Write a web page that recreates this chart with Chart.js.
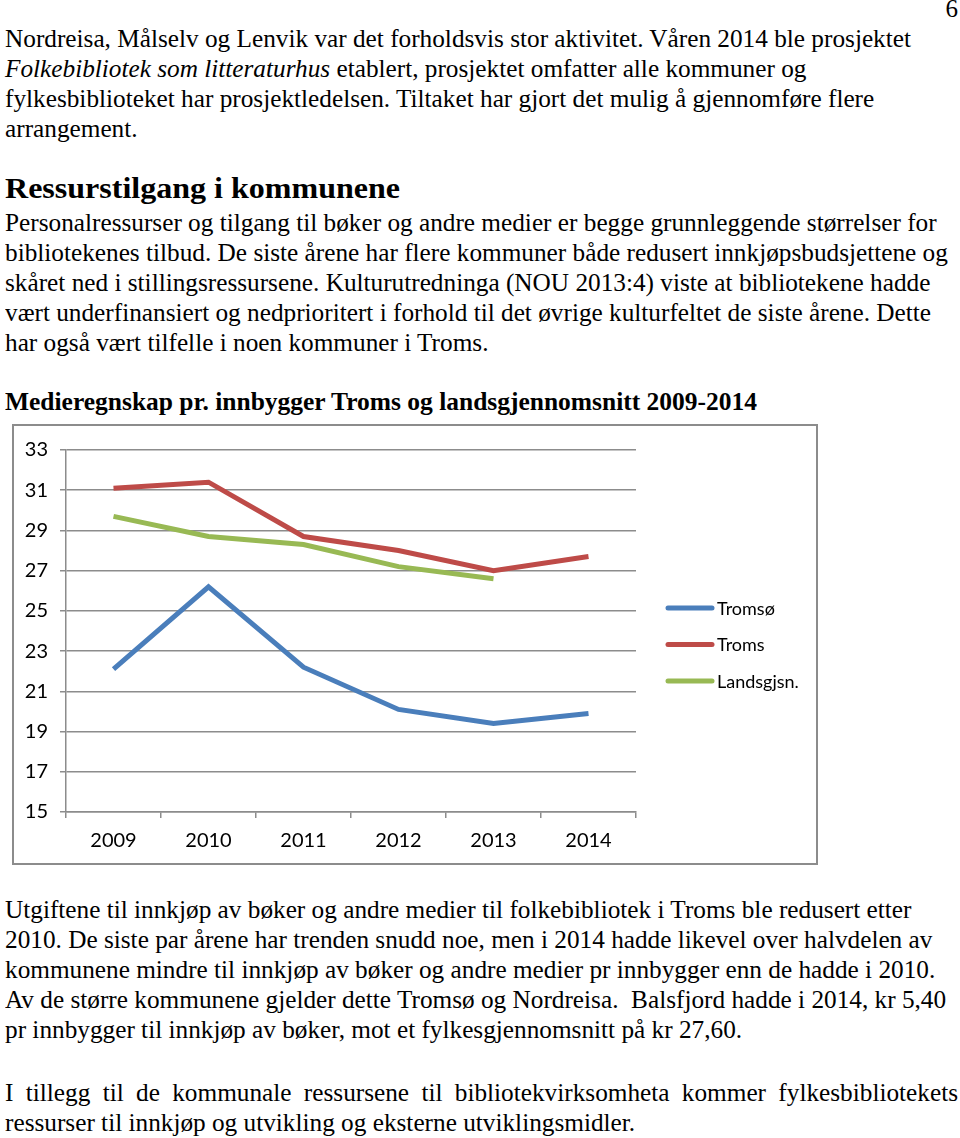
<!DOCTYPE html>
<html>
<head>
<meta charset="utf-8">
<script src="https://cdn.jsdelivr.net/npm/chart.js@4"></script>
<style>
  body { margin: 0; background: #fff; }
  #page { position: relative; width: 960px; height: 1138px; overflow: hidden; }
  .txt { position: absolute; left: 5px; font-family: "Times New Roman", "Liberation Serif", Times, serif; font-size: 25px;
         line-height: 30px; white-space: nowrap; transform-origin: left top; color: #000; }
  .head { position: absolute; left: 5px; font-family: "Times New Roman", "Liberation Serif", Times, serif; font-weight: bold;
          white-space: nowrap; transform-origin: left top; color: #000; }
  #pnum { position: absolute; right: 2px; top: -5px; font-family: "Times New Roman", "Liberation Serif", serif; font-size: 25px; }
  #box { position: absolute; left: 12px; top: 424px; width: 806px; height: 441px;
         border: 2px solid #8c8c8c; box-sizing: border-box; }
  #box canvas { position: absolute; left: 0; top: 0; }
</style>
</head>
<body>
<div id="page">
  <div id="pnum">6</div>

  <div class="txt" id="p1" style="top:24px">Nordreisa, Målselv og Lenvik var det forholdsvis stor aktivitet. Våren 2014 ble prosjektet<br><i>Folkebibliotek som litteraturhus</i> etablert, prosjektet omfatter alle kommuner og<br>fylkesbiblioteket har prosjektledelsen. Tiltaket har gjort det mulig å gjennomføre flere<br>arrangement.</div>

  <div class="head" style="top:172px;font-size:29px" data-w="395">Ressurstilgang i kommunene</div>

  <div class="txt" style="top:208px">Personalressurser og tilgang til bøker og andre medier er begge grunnleggende størrelser for<br>bibliotekenes tilbud. De siste årene har flere kommuner både redusert innkjøpsbudsjettene og<br>skåret ned i stillingsressursene. Kulturutredninga (NOU 2013:4) viste at bibliotekene hadde<br>vært underfinansiert og nedprioritert i forhold til det øvrige kulturfeltet de siste årene. Dette<br>har også vært tilfelle i noen kommuner i Troms.</div>

  <div class="head" style="top:388px;font-size:25px" data-w="752">Medieregnskap pr. innbygger Troms og landsgjennomsnitt 2009-2014</div>

  <div id="box"><canvas id="chart" width="802" height="437"></canvas></div>

  <div class="txt" style="top:895px">Utgiftene til innkjøp av bøker og andre medier til folkebibliotek i Troms ble redusert etter<br>2010. De siste par årene har trenden snudd noe, men i 2014 hadde likevel over halvdelen av<br>kommunene mindre til innkjøp av bøker og andre medier pr innbygger enn de hadde i 2010.<br>Av de større kommunene gjelder dette Tromsø og Nordreisa.&nbsp; Balsfjord hadde i 2014, kr 5,40<br>pr innbygger til innkjøp av bøker, mot et fylkesgjennomsnitt på kr 27,60.</div>

  <div class="txt" id="last" style="top:1078px;white-space:normal;text-align:justify">I tillegg til de kommunale ressursene til bibliotekvirksomheta kommer fylkesbibliotekets ressurser til innkjøp og utvikling og eksterne utviklingsmidler.</div>
</div>

<script>
// data
const years = ['2009', '2010', '2011', '2012', '2013', '2014'];
const tromso = [22.1, 26.2, 22.2, 20.1, 19.4, 19.9];
const troms = [31.1, 31.4, 28.7, 28.0, 27.0, 27.7];
const landsgjsn = [29.7, 28.7, 28.3, 27.2, 26.6, null];
const seriesNames = ['Tromsø', 'Troms', 'Landsgjsn.'];
const seriesColors = ['#4a7ebb', '#be4b48', '#98b954'];
const yMin = 15, yMax = 33, yStep = 2;

// squeeze body text like the scanned page
const p1 = document.getElementById('p1');
const firstLine = document.createElement('span');
firstLine.style.font = getComputedStyle(p1).font;
firstLine.style.whiteSpace = 'nowrap';
firstLine.style.position = 'absolute';
firstLine.textContent = 'Nordreisa, Målselv og Lenvik var det forholdsvis stor aktivitet. Våren 2014 ble prosjektet';
document.body.appendChild(firstLine);
const sx = 906 / firstLine.getBoundingClientRect().width;
firstLine.remove();
document.querySelectorAll('.txt').forEach(el => { el.style.transform = 'scaleX(' + sx + ')'; });
document.getElementById('last').style.width = (953 / sx) + 'px';
document.querySelectorAll('.head').forEach(el => {
  const w = el.getBoundingClientRect().width;
  el.style.transform = 'scaleX(' + (parseFloat(el.dataset.w) / w) + ')';
});

const legendLines = {
  id: 'legendLines',
  afterDraw(chart) {
    const ctx = chart.ctx;
    const x0 = chart.chartArea.right + 32;
    chart.data.datasets.forEach((ds, i) => {
      const y = 182 + i * 36.5;
      ctx.save();
      ctx.strokeStyle = ds.borderColor;
      ctx.lineWidth = 5;
      ctx.lineCap = 'round';
      ctx.beginPath();
      ctx.moveTo(x0, y);
      ctx.lineTo(x0 + 44, y);
      ctx.stroke();
      ctx.fillStyle = '#000';
      ctx.font = '18px Lato';
      ctx.textBaseline = 'middle';
      ctx.fillText(ds.label, x0 + 49, y + 1);
      ctx.restore();
    });
  }
};

const mk = (i, data) => ({
  label: seriesNames[i],
  data: data,
  borderColor: seriesColors[i],
  backgroundColor: seriesColors[i],
  borderWidth: 5,
  pointRadius: 0,
  tension: 0,
  spanGaps: false
});

new Chart(document.getElementById('chart'), {
  type: 'line',
  data: {
    labels: years,
    datasets: [mk(0, tromso), mk(1, troms), mk(2, landsgjsn)]
  },
  options: {
    responsive: false,
    animation: false,
    layout: { padding: { top: 21, right: 180, left: 0, bottom: 0 } },
    plugins: { legend: { display: false }, tooltip: { enabled: false } },
    scales: {
      x: {
        offset: true,
        grid: { drawOnChartArea: false, drawTicks: true, tickLength: 6, offset: true, color: '#8c8c8c', lineWidth: 1.5 },
        border: { color: '#8c8c8c', width: 1.5 },
        ticks: { color: '#000', font: { family: 'Lato', size: 20 }, padding: 11, maxRotation: 0 },
        afterFit: s => { s.height = 51; }
      },
      y: {
        min: yMin,
        max: yMax,
        grid: { color: '#8c8c8c', lineWidth: 1.5, tickLength: 6 },
        border: { color: '#8c8c8c', width: 1.5 },
        ticks: { stepSize: yStep, color: '#000', font: { family: 'Lato', size: 20 }, padding: 12 },
        afterFit: s => { s.width = 52; }
      }
    }
  },
  plugins: [legendLines]
});
</script>
</body>
</html>
